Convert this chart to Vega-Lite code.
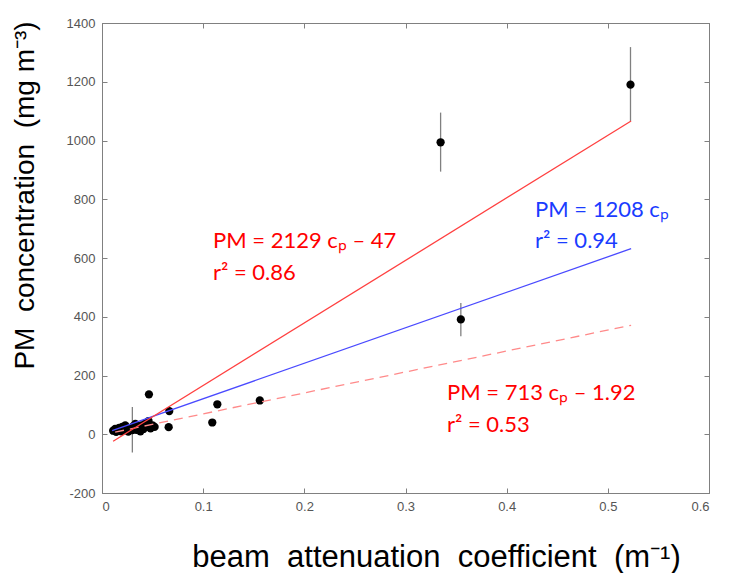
{
  "$schema": "https://vega.github.io/schema/vega-lite/v6.json",
  "width": 607,
  "height": 470,
  "autosize": {"type": "none"},
  "padding": {"left": 102, "top": 23, "right": 31, "bottom": 80},
  "background": "white",
  "config": {
    "view": {"stroke": "#808080", "strokeWidth": 1},
    "axis": {
      "grid": false,
      "domainColor": "#808080",
      "tickColor": "#808080",
      "tickSize": -5,
      "labelPadding": 12,
      "labelFont": "Liberation Sans",
      "labelFontSize": 13,
      "labelColor": "#555555",
      "titleFont": "Liberation Sans",
      "titleFontSize": 30,
      "titleFontWeight": "normal",
      "titleColor": "#000000"
    }
  },
  "datasets": {
    "pts": [
      {"x": 0.011, "y": 12}, {"x": 0.013, "y": 18}, {"x": 0.014, "y": 8}, {"x": 0.016, "y": 15},
      {"x": 0.017, "y": 22}, {"x": 0.019, "y": 10}, {"x": 0.020, "y": 25}, {"x": 0.022, "y": 14},
      {"x": 0.023, "y": 30}, {"x": 0.025, "y": 18}, {"x": 0.026, "y": 9}, {"x": 0.028, "y": 20},
      {"x": 0.030, "y": 14, "lo": -62, "hi": 93}, {"x": 0.031, "y": 28}, {"x": 0.033, "y": 35},
      {"x": 0.034, "y": 15}, {"x": 0.036, "y": 22}, {"x": 0.038, "y": 10}, {"x": 0.039, "y": 30},
      {"x": 0.041, "y": 18}, {"x": 0.043, "y": 38}, {"x": 0.044, "y": 25}, {"x": 0.046, "y": 45},
      {"x": 0.048, "y": 20}, {"x": 0.050, "y": 30}, {"x": 0.052, "y": 25},
      {"x": 0.0464, "y": 136}, {"x": 0.0665, "y": 79}, {"x": 0.0659, "y": 24},
      {"x": 0.114, "y": 102}, {"x": 0.109, "y": 40}, {"x": 0.156, "y": 115},
      {"x": 0.3547, "y": 391, "lo": 334, "hi": 447},
      {"x": 0.3347, "y": 994, "lo": 894, "hi": 1095},
      {"x": 0.5224, "y": 1190, "lo": 1066, "hi": 1318}
    ],
    "fits": [
      {"fit": "all", "x": 0.011, "y": -23.6}, {"fit": "all", "x": 0.523, "y": 1066.5},
      {"fit": "origin", "x": 0.010, "y": 12.1}, {"fit": "origin", "x": 0.523, "y": 631.8},
      {"fit": "low", "x": 0.013, "y": 7.4}, {"fit": "low", "x": 0.523, "y": 371}
    ],
    "labels": [
      {"x": 0.1097, "y": 634, "t": "PM = 2129 cₚ – 47", "g": "red"},
      {"x": 0.1097, "y": 525, "t": "r² = 0.86", "g": "red"},
      {"x": 0.428, "y": 739, "t": "PM = 1208 cₚ", "g": "blue"},
      {"x": 0.428, "y": 634, "t": "r² = 0.94", "g": "blue"},
      {"x": 0.341, "y": 116, "t": "PM = 713 cₚ – 1.92", "g": "red"},
      {"x": 0.341, "y": 7, "t": "r² = 0.53", "g": "red"}
    ]
  },
  "layer": [
    {
      "data": {"name": "pts"},
      "transform": [{"filter": "isValid(datum.lo)"}],
      "mark": {"type": "rule", "color": "#808080", "strokeWidth": 1.3},
      "encoding": {
        "x": {
          "field": "x", "type": "quantitative",
          "scale": {"domain": [0, 0.6], "nice": false, "zero": false},
          "axis": {
            "orient": "bottom",
            "values": [0, 0.1, 0.2, 0.3, 0.4, 0.5, 0.6],
            "format": "~g",
            "title": "beam\u00a0 attenuation\u00a0 coefficient\u00a0 (m⁻¹)",
            "titleFontSize": 31,
            "titleX": 334, "titleY": 73,
            "titleAlign": "center", "titleBaseline": "alphabetic"
          }
        },
        "y": {
          "field": "lo", "type": "quantitative",
          "scale": {"domain": [-200, 1400], "nice": false, "zero": false},
          "axis": {
            "orient": "left",
            "values": [-200, 0, 200, 400, 600, 800, 1000, 1200, 1400],
            "labelExpr": "'' + datum.value",
            "title": "PM\u00a0 concentration\u00a0 (mg m⁻³)",
            "titleFontSize": 28,
            "titleX": -69, "titleY": 172, "titleAngle": -90,
            "titleAlign": "center", "titleBaseline": "alphabetic"
          }
        },
        "y2": {"field": "hi"}
      }
    },
    {
      "data": {"name": "pts"},
      "mark": {"type": "circle", "size": 68, "color": "#000000", "opacity": 1},
      "encoding": {
        "x": {"field": "x", "type": "quantitative", "axis": null},
        "y": {"field": "y", "type": "quantitative", "axis": null}
      }
    },
    {
      "data": {"name": "fits"},
      "transform": [{"filter": "datum.fit == 'low'"}],
      "mark": {"type": "line", "color": "#ff8a8a", "strokeWidth": 1.3, "strokeDash": [9, 6]},
      "encoding": {
        "x": {"field": "x", "type": "quantitative", "axis": null},
        "y": {"field": "y", "type": "quantitative", "axis": null}
      }
    },
    {
      "data": {"name": "fits"},
      "transform": [{"filter": "datum.fit == 'origin'"}],
      "mark": {"type": "line", "color": "#4a4aff", "strokeWidth": 1.3},
      "encoding": {
        "x": {"field": "x", "type": "quantitative", "axis": null},
        "y": {"field": "y", "type": "quantitative", "axis": null}
      }
    },
    {
      "data": {"name": "fits"},
      "transform": [{"filter": "datum.fit == 'all'"}],
      "mark": {"type": "line", "color": "#ff4040", "strokeWidth": 1.3},
      "encoding": {
        "x": {"field": "x", "type": "quantitative", "axis": null},
        "y": {"field": "y", "type": "quantitative", "axis": null}
      }
    },
    {
      "data": {"name": "labels"},
      "mark": {"type": "text", "align": "left", "baseline": "alphabetic", "font": "Lato", "fontSize": 22},
      "encoding": {
        "x": {"field": "x", "type": "quantitative", "axis": null},
        "y": {"field": "y", "type": "quantitative", "axis": null},
        "text": {"field": "t"},
        "color": {"field": "g", "type": "nominal", "scale": {"domain": ["red", "blue"], "range": ["#ff0000", "#1a3cff"]}, "legend": null}
      }
    },
    {
      "data": {"name": "pts"},
      "mark": {"type": "point", "opacity": 0},
      "encoding": {
        "x": {"field": "x", "type": "quantitative",
          "axis": {"orient": "top", "values": [0, 0.1, 0.2, 0.3, 0.4, 0.5, 0.6], "labels": false, "title": null}},
        "y": {"field": "y", "type": "quantitative",
          "axis": {"orient": "right", "values": [-200, 0, 200, 400, 600, 800, 1000, 1200, 1400], "labels": false, "title": null}}
      }
    }
  ],
  "resolve": {"axis": {"x": "independent", "y": "independent"}}
}
